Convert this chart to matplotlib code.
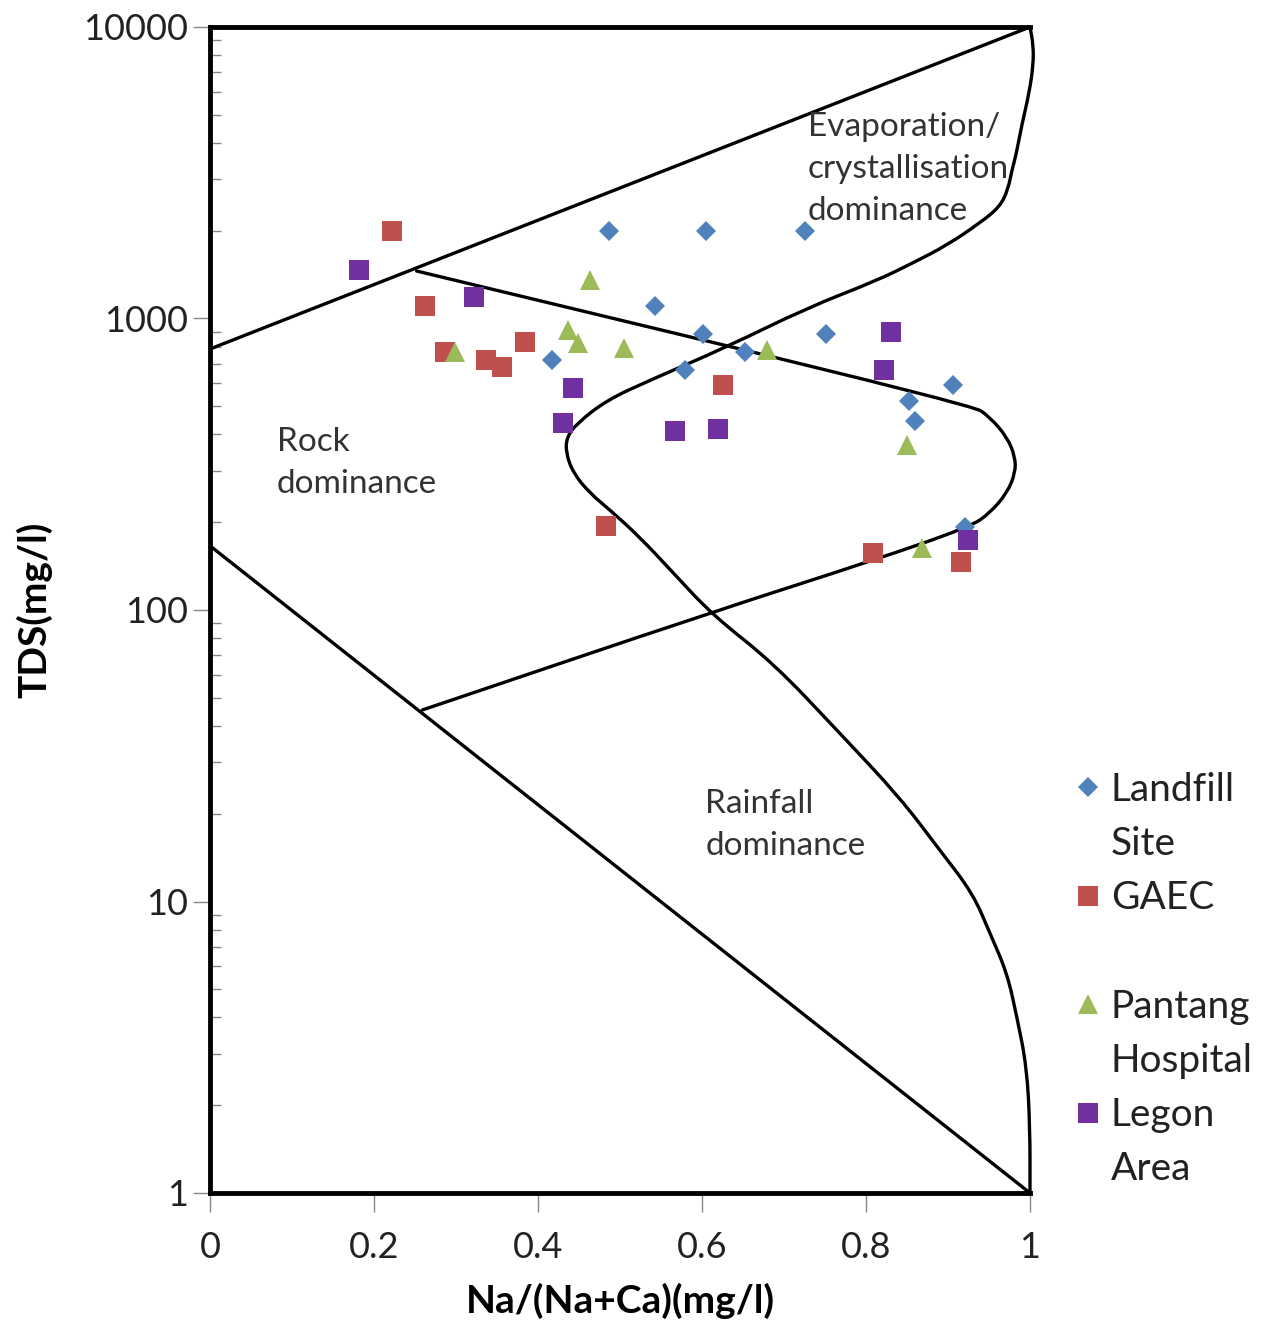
import matplotlib
matplotlib.use("Agg")
import numpy as np
import matplotlib.pyplot as plt
from matplotlib.lines import Line2D
from matplotlib.path import Path
from matplotlib.patches import PathPatch
from matplotlib.ticker import LogLocator, NullFormatter, FixedLocator

plt.rcParams['font.family'] = ['Lato', 'DejaVu Sans']

# ---- data ----
landfill_x = [0.487, 0.605, 0.726, 0.543, 0.601, 0.751, 0.417, 0.579, 0.652, 0.906, 0.852, 0.860, 0.921]
landfill_y = [2000, 2000, 2000, 1104, 885, 885, 721, 666, 767, 591, 521, 445, 193]

gaec_x = [0.222, 0.262, 0.287, 0.337, 0.356, 0.384, 0.626, 0.483, 0.809, 0.916]
gaec_y = [2000, 1104, 767, 721, 682, 830, 591, 194, 157, 146]

pantang_x = [0.464, 0.437, 0.449, 0.299, 0.505, 0.679, 0.850, 0.868]
pantang_y = [1355, 913, 824, 767, 792, 780, 368, 163]

legon_x = [0.182, 0.322, 0.443, 0.430, 0.567, 0.620, 0.831, 0.822, 0.924]
legon_y = [1467, 1185, 578, 438, 411, 418, 899, 666, 174]

# Gibbs boundary lines (Na/(Na+Ca), TDS)
upper_env_x = [0.0, 1.0]
upper_env_y = [786, 10000]
lower_env_x = [0.0, 1.0]
lower_env_y = [166, 1]
outer_curve_x = [1.000, 1.004, 1.004, 0.999, 0.990, 0.983, 0.978, 0.973, 0.963, 0.939,
                 0.899, 0.857, 0.812, 0.728, 0.630, 0.537, 0.484, 0.448, 0.435, 0.434,
                 0.443, 0.463, 0.488, 0.524, 0.565, 0.613, 0.687, 0.768, 0.841, 0.890,
                 0.930, 0.951, 0.972, 0.984, 0.996, 1.000, 1.000]
outer_curve_y = [10000, 8670, 7410, 5940, 4615, 3640, 3230, 2760, 2415, 2128,
                 1786, 1550, 1345, 1087, 798, 615, 525, 438, 392, 346,
                 295, 252, 220, 178, 134, 96, 65.8, 37.8, 22.8, 15.0,
                 10.7, 7.80, 5.69, 4.02, 2.71, 1.68, 1.0]
boomerang_x = [0.252, 0.930, 0.951, 0.972, 0.982, 0.982, 0.972, 0.951, 0.927, 0.809, 0.613, 0.259]
boomerang_y = [1455, 505, 459, 392, 335, 295, 252, 215, 193, 148, 98.5, 45.4]

series_names = ["Landfill\nSite", "GAEC\n ", "Pantang\nHospital", "Legon\nArea"]
series_x = [landfill_x, gaec_x, pantang_x, legon_x]
series_y = [landfill_y, gaec_y, pantang_y, legon_y]
markers = ["D", "s", "^", "s"]
msizes = [10.5, 15, 15, 15]
colors = ["#4F81BD", "#C0504D", "#9BBB59", "#7030A0"]


def smooth_path(xs, ys):
    """Quadratic-Bezier path through the read points (midpoint smoothing,
    midpoints taken in log space for the log-scaled y axis)."""
    xs = np.asarray(xs, float)
    ly = np.log10(np.asarray(ys, float))
    verts = [(xs[0], 10 ** ly[0])]
    codes = [Path.MOVETO]
    n = len(xs)
    if n > 2:
        mx = (xs[0] + xs[1]) / 2
        my = 10 ** ((ly[0] + ly[1]) / 2)
        verts.append((mx, my)); codes.append(Path.LINETO)
        for i in range(1, n - 1):
            ex = (xs[i] + xs[i + 1]) / 2
            ey = 10 ** ((ly[i] + ly[i + 1]) / 2)
            verts += [(xs[i], 10 ** ly[i]), (ex, ey)]
            codes += [Path.CURVE3, Path.CURVE3]
    verts.append((xs[-1], 10 ** ly[-1])); codes.append(Path.LINETO)
    return Path(verts, codes)


fig = plt.figure(figsize=(12.66, 13.24), dpi=100)
ax = fig.add_axes([210/1266, 1-1193/1324, 820/1266, 1166/1324])
ax.set_yscale('log')
ax.set_xlim(0, 1)
ax.set_ylim(1, 10000)

lw = 2.4
line_kw = dict(color='black', lw=lw, solid_capstyle='round', solid_joinstyle='round', zorder=2)
ax.plot(upper_env_x, upper_env_y, **line_kw)
ax.plot(lower_env_x, lower_env_y, **line_kw)
for cx, cy in [(outer_curve_x, outer_curve_y), (boomerang_x, boomerang_y)]:
    patch = PathPatch(smooth_path(cx, cy), facecolor='none', edgecolor='black',
                      lw=lw, capstyle='round', joinstyle='round', zorder=2, clip_on=False)
    ax.add_patch(patch)

handles = []
for name, xs, ys, m, ms, c in zip(series_names, series_x, series_y, markers, msizes, colors):
    h, = ax.plot(xs, ys, linestyle='none', marker=m, markersize=ms, color=c,
                 markeredgewidth=0, label=name, zorder=3)
    handles.append(h)

# text annotations
txt_kw = dict(fontsize=24, color='#333333', va='top', ha='left', linespacing=1.5)
ax.text(0.729, 5110, "Evaporation/\ncrystallisation\ndominance", **txt_kw)
ax.text(0.0817, 424, "Rock\ndominance", **txt_kw)
ax.text(0.604, 24.3, "Rainfall\ndominance", **txt_kw)

# spines
for s in ['left', 'bottom', 'top']:
    ax.spines[s].set_linewidth(3.5)
    ax.spines[s].set_color('black')
ax.spines['right'].set_visible(False)

# ticks
ax.xaxis.set_major_locator(FixedLocator([0, 0.2, 0.4, 0.6, 0.8, 1.0]))
ax.set_xticklabels(['0', '0.2', '0.4', '0.6', '0.8', '1'])
ax.tick_params(axis='x', direction='out', length=14, width=1, color='#888888',
               labelsize=26, labelcolor='#222222', pad=13)
ax.yaxis.set_major_locator(FixedLocator([1, 10, 100, 1000, 10000]))
ax.set_yticklabels(['1', '10', '100', '1000', '10000'])
ax.yaxis.set_minor_locator(LogLocator(base=10, subs=range(2, 10)))
ax.yaxis.set_minor_formatter(NullFormatter())
ax.tick_params(axis='y', which='major', direction='out', length=12, width=1, color='#888888',
               labelsize=26, labelcolor='#222222', pad=4)
ax.tick_params(axis='y', which='minor', direction='in', length=8, width=1, color='#888888')

ax.set_xlabel("Na/(Na+Ca)(mg/l)", fontsize=28, fontweight='bold', labelpad=14)
ax.set_ylabel("TDS(mg/l)", fontsize=28, fontweight='bold', labelpad=22)

# legend: marker aligned with first line of each wrapped label
blank = Line2D([], [], color='none', linestyle='none')
leg_handles, leg_labels = [], []
for h, name in zip(handles, series_names):
    first, second = name.split("\n")
    leg_handles += [h, blank]
    leg_labels += [first, second]
leg = fig.legend(leg_handles, leg_labels, loc='upper left',
                 bbox_to_anchor=(1061/1266, 1-756/1324), frameon=False,
                 fontsize=28, handlelength=0.6, handletextpad=0.28,
                 labelspacing=0.47, borderaxespad=0, borderpad=0.4)
for t in leg.get_texts():
    t.set_color('#222222')

fig.savefig("out.png", dpi=100, facecolor='white')
